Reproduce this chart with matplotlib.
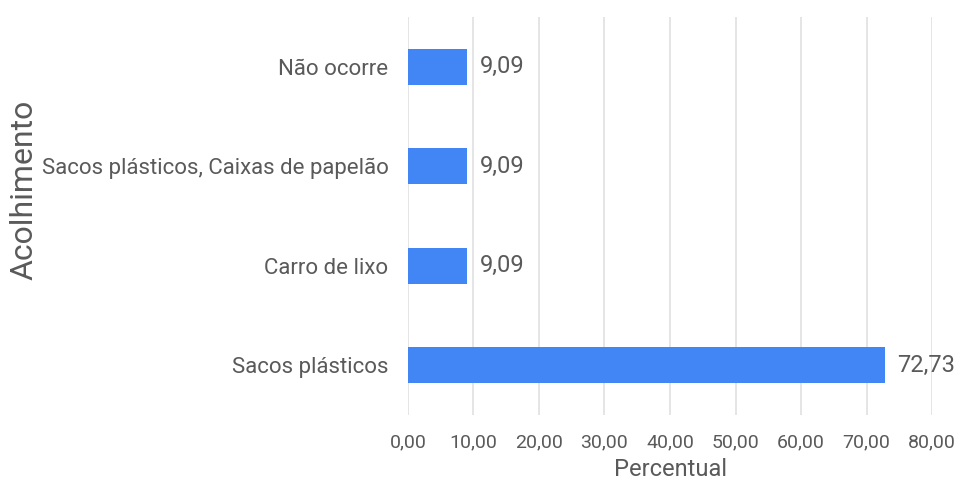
import matplotlib.pyplot as plt

categorias = ["Sacos plásticos", "Carro de lixo", "Sacos plásticos, Caixas de papelão", "Não ocorre"]
valores = [72.73, 9.09, 9.09, 9.09]
ticks_x = [0, 10, 20, 30, 40, 50, 60, 70, 80]

plt.rcParams['font.family'] = ['Roboto', 'DejaVu Sans']

fig = plt.figure(figsize=(9.62, 4.86), dpi=100)
ax = fig.add_axes([0.424, 0.146, 0.545, 0.819])

pos = list(range(len(categorias)))
ax.barh(pos, valores, height=0.36, color="#4285f4", zorder=3)

# rótulos de valor
for p, v in zip(pos, valores):
    ax.annotate(f"{v:.2f}".replace(".", ","), (v, p), xytext=(9, 0), textcoords="offset points",
                va="center", ha="left", fontsize=17, color="#5a5a5a")

ax.set_xlim(0, 80)
ax.set_ylim(-0.5, 3.5)
ax.set_xticks(ticks_x)
ax.set_xticklabels([f"{t:.2f}".replace(".", ",") for t in ticks_x])
ax.set_yticks(pos)
ax.set_yticklabels(categorias)
ax.tick_params(axis="both", length=0, labelcolor="#5a5a5a")
ax.tick_params(axis="x", pad=13, labelsize=14)
ax.tick_params(axis="y", pad=14, labelsize=16)
ax.grid(axis="x", color="#e0e0e0", linewidth=1.2, zorder=0)
for s in ax.spines.values():
    s.set_visible(False)

ax.set_xlabel("Percentual", fontsize=17, color="#5a5a5a", labelpad=5)
fig.text(0.025, 0.609, "Acolhimento", rotation=90, fontsize=23, color="#5a5a5a", va="center", ha="center")

fig.savefig("out.png", dpi=100)
